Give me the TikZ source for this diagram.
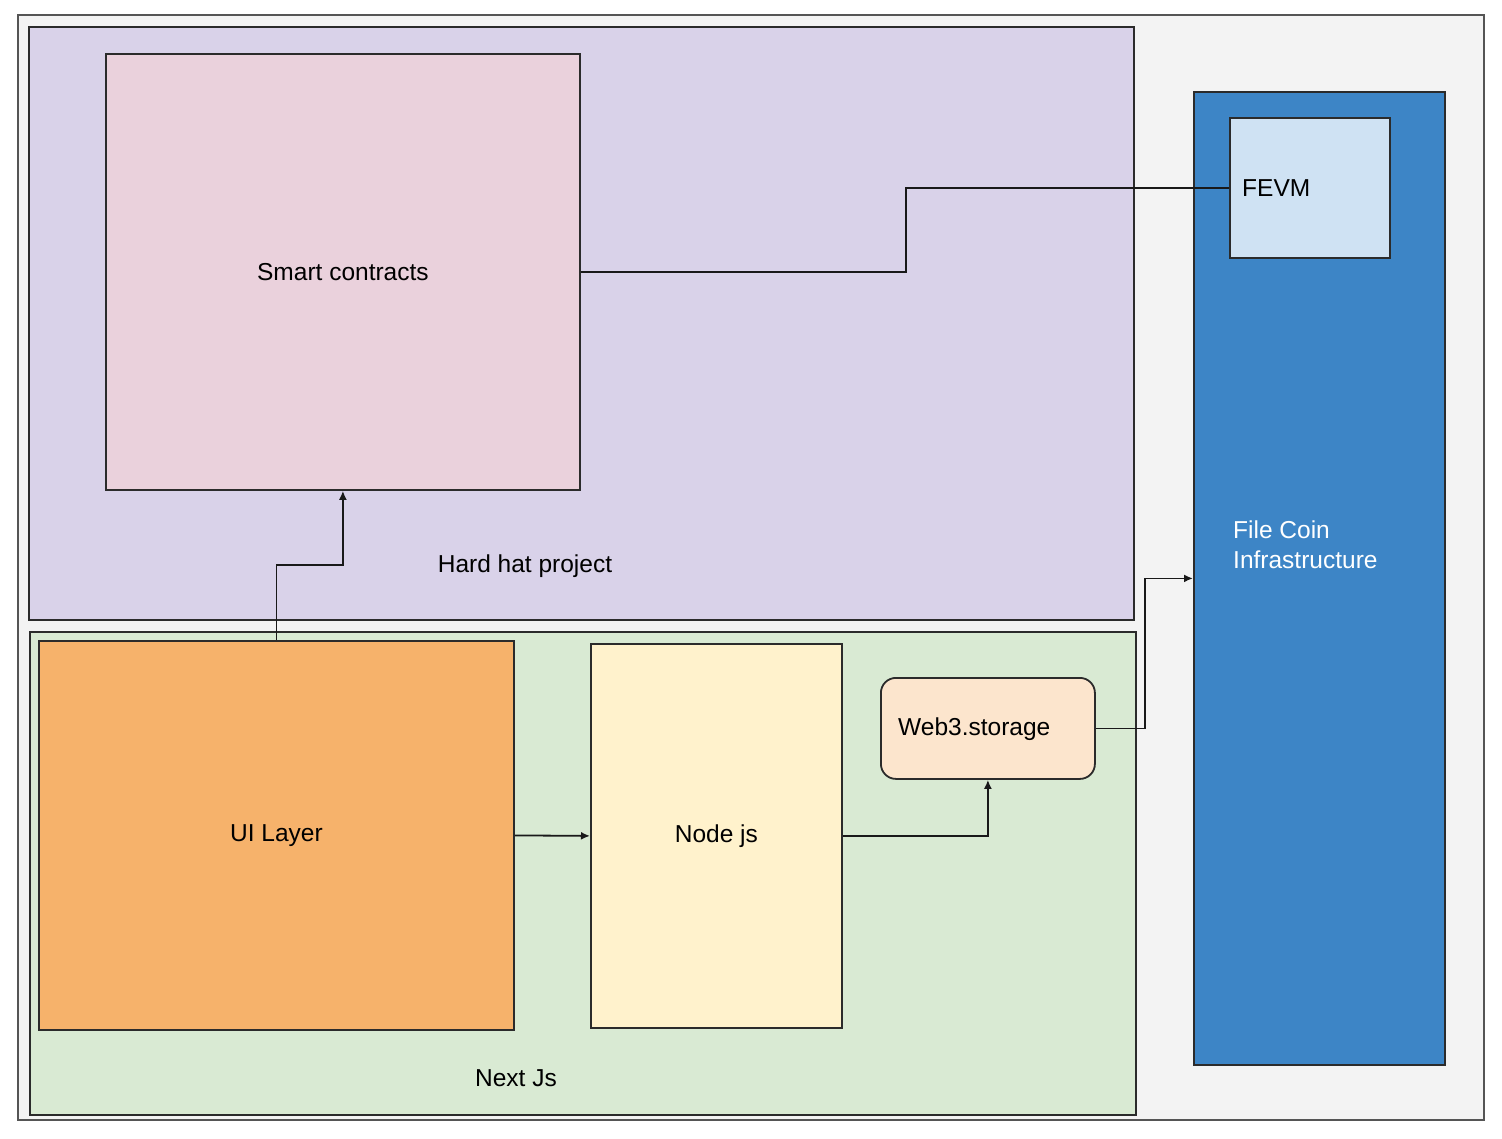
\documentclass[tikz,border=0pt]{standalone}
\usepackage{fontspec}
\setmainfont{Liberation Sans}
\usetikzlibrary{arrows.meta}
\definecolor{bgGray}{HTML}{F3F3F3}
\definecolor{lav}{HTML}{D9D2E9}
\definecolor{pinkc}{HTML}{EAD1DC}
\definecolor{greenc}{HTML}{D9EAD3}
\definecolor{orangec}{HTML}{F6B26B}
\definecolor{yellowc}{HTML}{FFF2CC}
\definecolor{peachc}{HTML}{FCE5CD}
\definecolor{bluec}{HTML}{3D85C6}
\definecolor{lblue}{HTML}{CFE2F3}
\definecolor{edgec}{HTML}{2B2B2B}
\begin{document}
\begin{tikzpicture}[x=1pt,y=-1pt,
  box/.style={draw=edgec, line width=1.8pt, inner sep=0pt, anchor=north west,
    font=\fontsize{24.5}{29}\selectfont},
  lbl/.style={inner sep=0pt, font=\fontsize{24.5}{29}\selectfont},
  conn/.style={draw=black!90, line width=1.8pt},
  arr/.style={conn, -{Latex[length=9pt,width=8pt]}}]
\useasboundingbox (0,0) rectangle (1502,1138);
\fill[white] (0,0) rectangle (1502,1138);
\draw[fill=bgGray, draw=edgec!80, line width=1.8pt] (18,15) rectangle (1484,1120);
% Hard hat project
\node[box, fill=lav, minimum width=1105pt, minimum height=593pt] (hh) at (28,26) {};
\node[lbl] (hhl) at (525,566) {Hard hat project};
\node[box, fill=pinkc, minimum width=474pt, minimum height=436pt] (sc) at (105,53) {Smart contracts};
% Next Js
\node[box, fill=greenc, minimum width=1106pt, minimum height=483pt] (nx) at (29,631) {};
\node[lbl] (nxl) at (516,1078) {Next Js};
\node[box, fill=orangec, minimum width=475pt, minimum height=389pt] (ui) at (38,640) {UI Layer};
\node[box, fill=yellowc, minimum width=251pt, minimum height=384pt] (nj) at (590,643) {Node js};
\node[box, fill=peachc, rounded corners=15pt, minimum width=214pt, minimum height=101pt] (w3) at (880,677) {};
\node[lbl, anchor=west] (w3l) at (898,729) {Web3.storage};
% File Coin
\node[box, fill=bluec, minimum width=251pt, minimum height=973pt] (fc) at (1193,91) {};
\node[lbl, anchor=west, text=white, align=left, font=\fontsize{24.5}{30}\selectfont] (fcl) at (1233,545) {File Coin\\Infrastructure};
\node[box, fill=lblue, minimum width=160pt, minimum height=140pt] (fevm) at (1229,117) {};
\node[lbl, anchor=west] (fevml) at (1242,188) {FEVM};
% connectors
\draw[conn] (sc.east) -- ++(325,0) |- (fevm.west);
\draw[arr] (ui.north) -- ++(0,-75) -| (sc.south);
\draw[arr] (ui.east) -- (nj.west);
\draw[arr] (nj.east) -| (w3.south);
\draw[arr] (w3.east) -- ++(49,0) |- (fc.west);
\end{tikzpicture}
\end{document}
